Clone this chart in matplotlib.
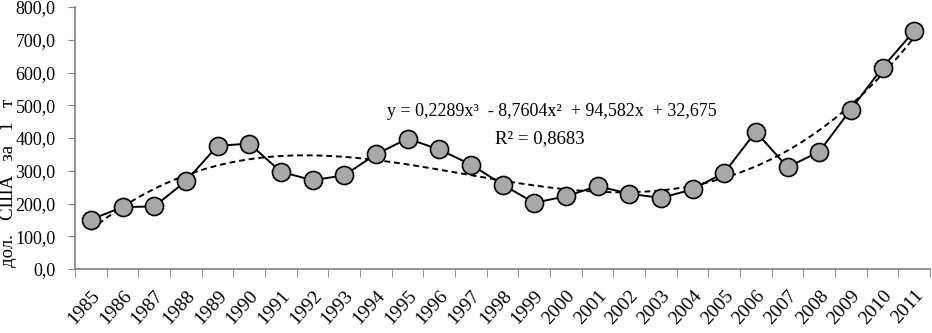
import matplotlib.pyplot as plt
import numpy as np

years = list(range(1985, 2012))
prices = [151, 189, 191, 268, 376, 383, 297, 271, 286, 350, 398, 365, 319,
          258, 202, 222, 253, 230, 217, 243, 294, 419, 311, 358, 487, 615, 727]
eq_text = "y = 0,2289x³  - 8,7604x²  + 94,582x  + 32,675"
r2_text = "R² = 0,8683"

plt.rcParams['font.family'] = ['Liberation Serif', 'DejaVu Serif']

fig = plt.figure(figsize=(9.32, 3.33), dpi=100)
ax = fig.add_axes([75/932, 1-269/333, (930-75)/932, (269-7)/333])

x = np.arange(1, len(years)+1)
# cubic trend line like excel
coef = np.polyfit(x, prices, 3)
xs = np.linspace(1, len(years), 300)
ax.plot(xs, np.polyval(coef, xs), color='black', lw=1.4, ls=(0, (3, 2)), zorder=2)
ax.plot(x, prices, color='black', lw=1.4, marker='o', ms=13,
        mfc='#a8a8a8', mec='black', mew=1.2, zorder=3)

ax.set_xlim(0.5, len(years)+0.5)
ax.set_ylim(0, 800)
ax.set_yticks(np.arange(0, 801, 100))
ax.set_yticklabels(['%d,0' % v for v in range(0, 801, 100)], fontsize=13)
ax.set_xticks(x)
ax.set_xticklabels([str(y) for y in years], rotation=48, ha='right',
                   rotation_mode='anchor', fontsize=14)
ax.set_xticks(np.arange(0.5, len(years)+1, 1), minor=True)
ax.tick_params(axis='x', which='major', length=0, pad=13)
ax.tick_params(axis='x', which='minor', length=6, color='#808080', direction='out')
ax.tick_params(axis='y', length=5, color='#808080', direction='out', pad=9)

for s in ['top', 'right']:
    ax.spines[s].set_visible(False)
for s in ['left', 'bottom']:
    ax.spines[s].set_color('#808080')
    ax.spines[s].set_linewidth(1.2)

ax.text(0.558, 0.60, eq_text, transform=ax.transAxes, fontsize=13, ha='center', va='center')
ax.text(0.544, 0.496, r2_text, transform=ax.transAxes, fontsize=13.5, ha='center', va='center')

fig.text(9/932, 0.45, "дол.   США   за   1   т", rotation=90, fontsize=13.5,
         ha='center', va='center')

fig.savefig('out.png', dpi=100)
